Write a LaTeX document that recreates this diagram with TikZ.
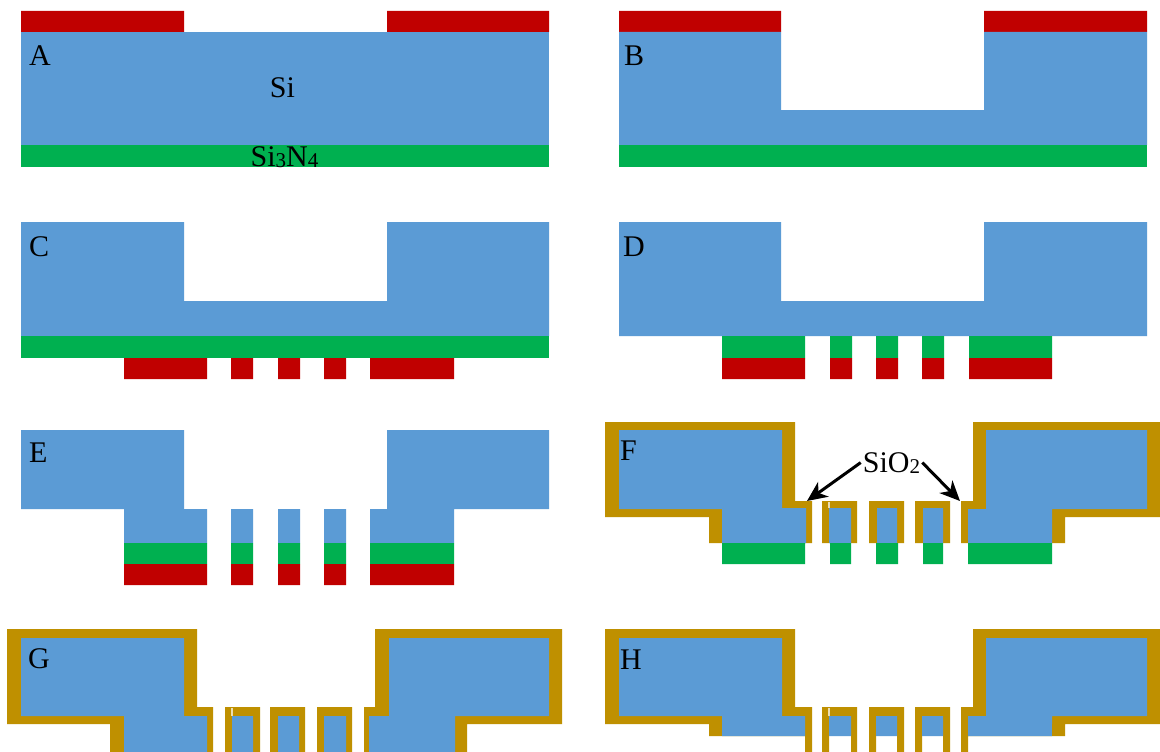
\documentclass[tikz,border=0pt]{standalone}
\usepackage{fontspec}
\setmainfont{Liberation Serif}
\usetikzlibrary{arrows.meta}
\newcommand\subsz[1]{{\fontsize{21}{21}\selectfont\raisebox{-1pt}{#1}}}
\tikzset{
  si/.style={fill=siblue,draw=none},
  nit/.style={fill=sigreen,draw=none},
  res/.style={fill=sired,draw=none},
  ox/.style={fill=sigold,draw=none},
  slit/.style={fill=white!70!sigold,draw=none},
  lbl/.style={anchor=base west,inner sep=0pt,font=\fontsize{30}{30}\selectfont,text=black},
  lblc/.style={anchor=base,inner sep=0pt,font=\fontsize{30}{30}\selectfont,text=black},
  callout/.style={draw=black,line width=3pt,-{Stealth[length=20pt,width=18pt,inset=6pt]}}
}
\definecolor{siblue}{HTML}{5B9BD5}
\definecolor{sigreen}{HTML}{00B050}
\definecolor{sired}{HTML}{C00000}
\definecolor{sigold}{HTML}{BF9000}
\begin{document}
\begin{tikzpicture}[x=1pt,y=-1pt]
\useasboundingbox (0,0) rectangle (1160,752);
\fill[white] (0,0) rectangle (1160,752);
% A
\fill[res] (21,11) rectangle (184,32) (387,11) rectangle (549,32);
\fill[si] (21,32) rectangle (549,145);
\fill[nit] (21,145) rectangle (549,167);
% B
\fill[res] (619,11) rectangle (781,32) (984,11) rectangle (1147,32);
\fill[si] (619,32)--(781,32)--(781,110)--(984,110)--(984,32)--(1147,32)--(1147,145)--(619,145)--cycle;
\fill[nit] (619,145) rectangle (1147,167);
% C
\fill[si] (21,222)--(184,222)--(184,301)--(387,301)--(387,222)--(549,222)--(549,336)--(21,336)--cycle;
\fill[nit] (21,336) rectangle (549,358);
\fill[res] (124,358) rectangle (207,379) (231,358) rectangle (253,379) (278,358) rectangle (300,379) (324,358) rectangle (346,379) (370,358) rectangle (454,379);
% D
\fill[si] (619,222)--(781,222)--(781,301)--(984,301)--(984,222)--(1147,222)--(1147,336)--(619,336)--cycle;
\fill[nit] (722,336) rectangle (805,358) (830,336) rectangle (852,358) (876,336) rectangle (898,358) (922,336) rectangle (944,358) (969,336) rectangle (1052,358);
\fill[res] (722,358) rectangle (805,379) (830,358) rectangle (852,379) (876,358) rectangle (898,379) (922,358) rectangle (944,379) (969,358) rectangle (1052,379);
% E
\fill[si] (21,430)--(184,430)--(184,509)--(207,509)--(207,543)--(124,543)--(124,509)--(21,509)--cycle;
\fill[si] (231,509) rectangle (253,543) (278,509) rectangle (300,543) (324,509) rectangle (346,543);
\fill[si] (370,509)--(387,509)--(387,430)--(549,430)--(549,509)--(454,509)--(454,543)--(370,543)--cycle;
\fill[nit] (124,543) rectangle (207,564) (231,543) rectangle (253,564) (278,543) rectangle (300,564) (324,543) rectangle (346,564) (370,543) rectangle (454,564);
\fill[res] (124,564) rectangle (207,585) (231,564) rectangle (253,585) (278,564) rectangle (300,585) (324,564) rectangle (346,585) (370,564) rectangle (454,585);
% F
\fill[ox] (605,422)--(795,422)--(795,501)--(812,501)--(812,543)--(709,543)--(709,517)--(605,517)--cycle;
\fill[si] (619,430)--(782,430)--(782,508)--(806,508)--(806,543)--(722,543)--(722,509)--(619,509)--cycle;
\fill[ox] (822,501) rectangle (857,543) (869,501) rectangle (904,543) (915,501) rectangle (950,543);
\fill[si] (829,508) rectangle (851,543) (877,508) rectangle (897,543) (923,508) rectangle (943,543);
\fill[slit] (828,502) rectangle (829.5,508);
\fill[ox] (961,501)--(973,501)--(973,422)--(1160,422)--(1160,517)--(1065,517)--(1065,543)--(961,543)--cycle;
\fill[si] (968,509)--(986,509)--(986,430)--(1147,430)--(1147,509)--(1052,509)--(1052,543)--(968,543)--cycle;
\fill[nit] (722,543) rectangle (805,564) (830,543) rectangle (851,564) (876,543) rectangle (898,564) (923,543) rectangle (943,564) (968,543) rectangle (1052,564);
% G
\fill[ox] (7,629)--(197,629)--(197,707)--(213,707)--(213,752)--(110,752)--(110,724)--(7,724)--cycle;
\fill[si] (21,638)--(184,638)--(184,716)--(207,716)--(207,752)--(124,752)--(124,716)--(21,716)--cycle;
\fill[ox] (225,707) rectangle (260,752) (270,707) rectangle (305,752) (317,707) rectangle (352,752);
\fill[si] (232,716) rectangle (253,752) (278,716) rectangle (299,752) (324,716) rectangle (346,752);
\fill[slit] (231,708) rectangle (232.5,716);
\fill[ox] (364,707)--(375,707)--(375,629)--(562,629)--(562,724)--(467,724)--(467,752)--(364,752)--cycle;
\fill[si] (369,716)--(389,716)--(389,638)--(549,638)--(549,716)--(455,716)--(455,752)--(369,752)--cycle;
% H
\fill[ox] (605,629)--(795,629)--(795,707)--(812,707)--(812,752)--(805,752)--(805,736)--(709,736)--(709,724)--(605,724)--cycle;
\fill[si] (619,638)--(782,638)--(782,716)--(805,716)--(805,736)--(722,736)--(722,716)--(619,716)--cycle;
\fill[ox] (822,707)--(857,707)--(857,752)--(851,752)--(851,716)--(829,716)--(829,752)--(822,752)--cycle;
\fill[ox] (869,707)--(904,707)--(904,752)--(897,752)--(897,716)--(876,716)--(876,752)--(869,752)--cycle;
\fill[ox] (915,707)--(950,707)--(950,752)--(943,752)--(943,716)--(922,716)--(922,752)--(915,752)--cycle;
\fill[si] (829,716) rectangle (851,736) (876,716) rectangle (897,736) (922,716) rectangle (943,736);
\fill[slit] (828,708) rectangle (829.5,716);
\fill[ox] (961,707)--(973,707)--(973,629)--(1160,629)--(1160,724)--(1065,724)--(1065,736)--(968,736)--(968,752)--(961,752)--cycle;
\fill[si] (968,716)--(986,716)--(986,638)--(1147,638)--(1147,716)--(1052,716)--(1052,736)--(968,736)--cycle;
\fill[ox] (1052,724) rectangle (1065,736);
% labels
\node[lbl] (la) at (29,66) {A};
\node[lbl] (lb) at (624,66) {B};
\node[lbl] (lc) at (29,256) {C};
\node[lbl] (ld) at (623,256) {D};
\node[lbl] (le) at (29,462) {E};
\node[lbl] (lf) at (620,460) {F};
\node[lbl] (lg) at (28,668) {G};
\node[lbl] (lh) at (620,669) {H};
\node[lblc] (lsi) at (282.5,97) {Si};
\node[lblc] (lnit) at (284.5,166) {Si\subsz{3}N\subsz{4}};
\node[lblc,inner sep=2pt] (lox) at (891.5,472) {SiO\subsz{2}};
\coordinate (tl) at (807,501);
\coordinate (tr) at (960,501);
\draw[callout] (lox.west) -- (tl);
\draw[callout] (lox.east) -- (tr);
\end{tikzpicture}
\end{document}
